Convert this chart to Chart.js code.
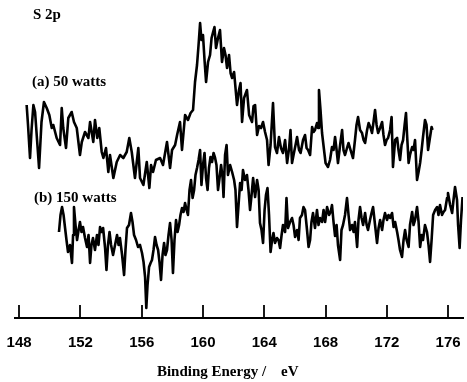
<!DOCTYPE html>
<html>
<head>
<meta charset="utf-8">
<title>S 2p</title>
<script src="https://cdn.jsdelivr.net/npm/chart.js@4/dist/chart.umd.min.js"></script>
<style>
  body { margin: 0; background: #fff; }
  canvas { display: block; }
</style>
</head>
<body>
<canvas id="grafico" width="467" height="382"></canvas>
<script>
// S 2p spectra, binding energy (eV) and intensity (a.u.)
var energyA = [148.49,148.58,148.71,148.81,148.93,149.04,149.17,149.30,149.46,149.62,149.80,149.97,150.13,150.23,150.45,150.67,150.78,150.88,151.06,151.21,
  151.43,151.58,151.76,151.97,152.09,152.30,152.52,152.63,152.84,152.95,153.10,153.23,153.39,153.50,153.67,153.82,153.93,154.15,154.37,154.59,
  154.80,155.02,155.19,155.35,155.56,155.78,155.89,156.11,156.33,156.50,156.61,156.74,156.93,157.20,157.39,157.65,157.85,157.98,158.18,158.31,
  158.50,158.63,158.83,159.02,159.19,159.35,159.48,159.61,159.71,159.81,159.90,160.00,160.10,160.20,160.33,160.46,160.56,160.66,160.75,160.85,
  160.98,161.11,161.24,161.37,161.47,161.57,161.70,161.80,161.90,162.03,162.22,162.35,162.45,162.55,162.68,162.87,163.01,163.20,163.30,163.40,
  163.53,163.66,163.79,163.92,164.05,164.18,164.28,164.41,164.57,164.70,164.83,164.96,165.09,165.22,165.36,165.49,165.62,165.71,165.81,165.91,
  166.04,166.14,166.27,166.37,166.53,166.66,166.76,166.86,166.99,167.12,167.22,167.31,167.44,167.51,167.57,167.67,167.77,167.90,168.00,168.16,
  168.29,168.42,168.52,168.62,168.72,168.81,168.95,169.08,169.17,169.27,169.40,169.50,169.63,169.79,169.92,170.02,170.12,170.25,170.38,170.48,
  170.58,170.71,170.81,170.94,171.03,171.13,171.23,171.33,171.43,171.56,171.69,171.78,171.88,171.98,172.08,172.21,172.31,172.40,172.54,172.67,
  172.76,172.86,172.96,173.06,173.16,173.25,173.32,173.42,173.51,173.65,173.74,173.84,173.97,174.07,174.17,174.27,174.36,174.49,174.59,174.69,
  174.79,174.92,174.98];
var intensityA = [213,193,160,188,213,206,178,150,196,216,210,203,190,193,180,173,210,190,170,200,
  206,196,190,163,176,186,180,196,176,198,180,190,166,160,170,146,163,140,156,163,
  160,166,180,166,140,170,140,133,156,130,153,146,158,160,153,176,150,168,173,183,
  196,168,203,198,205,208,236,253,273,295,278,283,258,236,256,263,280,286,291,270,
  280,288,256,270,263,250,263,245,240,246,213,228,235,196,220,228,203,196,212,213,
  183,192,190,196,186,178,153,173,215,171,165,181,170,165,178,155,170,188,155,163,
  173,181,168,165,178,183,170,168,163,191,186,188,195,190,228,208,185,168,155,151,
  158,171,168,181,168,155,173,188,168,163,170,175,168,160,178,193,201,188,185,178,
  175,188,195,190,185,196,208,193,185,190,196,183,173,178,180,188,201,151,178,180,
  168,158,173,178,193,205,183,155,163,171,168,178,138,146,155,168,181,198,193,168,
  178,191,188];

var energyB = [150.60,150.70,150.80,150.90,150.99,151.09,151.19,151.32,151.45,151.52,151.58,151.68,151.78,151.88,151.97,152.07,152.17,152.30,152.43,152.53,
  152.63,152.72,152.82,152.95,153.08,153.18,153.28,153.38,153.48,153.61,153.70,153.80,153.90,154.00,154.13,154.26,154.39,154.49,154.58,154.72,
  154.85,154.94,155.04,155.17,155.30,155.40,155.50,155.63,155.76,155.89,156.02,156.12,156.22,156.30,156.38,156.48,156.58,156.67,156.77,156.87,
  156.97,157.07,157.16,157.26,157.36,157.46,157.55,157.65,157.75,157.85,157.95,158.04,158.14,158.24,158.34,158.44,158.53,158.63,158.73,158.83,
  158.93,159.02,159.12,159.22,159.32,159.42,159.51,159.61,159.71,159.81,159.90,160.00,160.10,160.20,160.30,160.39,160.49,160.59,160.69,160.79,
  160.88,160.98,161.08,161.18,161.28,161.34,161.44,161.54,161.63,161.77,161.90,162.03,162.12,162.22,162.32,162.42,162.52,162.61,162.74,162.87,
  162.97,163.07,163.17,163.27,163.40,163.53,163.63,163.72,163.82,163.92,164.02,164.11,164.21,164.31,164.41,164.51,164.60,164.70,164.83,164.93,
  165.03,165.13,165.22,165.36,165.45,165.55,165.68,165.81,165.91,166.01,166.14,166.24,166.33,166.46,166.56,166.66,166.79,166.89,166.99,167.08,
  167.18,167.31,167.44,167.54,167.64,167.77,167.87,167.97,168.10,168.23,168.33,168.42,168.52,168.62,168.72,168.81,168.95,169.04,169.14,169.27,
  169.40,169.50,169.60,169.73,169.83,169.92,170.06,170.15,170.25,170.35,170.45,170.58,170.68,170.77,170.90,171.00,171.10,171.23,171.36,171.46,
  171.56,171.69,171.78,171.88,172.01,172.11,172.21,172.34,172.44,172.54,172.67,172.76,172.86,172.99,173.09,173.19,173.29,173.42,173.51,173.65,
  173.74,173.84,173.97,174.07,174.17,174.27,174.36,174.49,174.62,174.72,174.82,174.92,175.02,175.15,175.28,175.37,175.47,175.60,175.70,175.80,
  175.93,175.99,176.13,176.26,176.35,176.45,176.58,176.65,176.75,176.84,176.94];
var intensityB = [86,103,111,103,91,78,66,73,55,83,111,93,78,88,96,86,91,80,71,83,
  55,73,80,68,83,73,91,86,90,70,48,73,86,73,63,73,83,73,80,63,
  43,68,90,93,105,96,83,78,71,73,65,56,41,10,33,51,55,58,68,81,
  73,68,56,38,63,75,63,68,83,95,78,45,78,98,86,93,103,110,106,115,
  108,103,128,138,120,128,143,150,158,168,133,153,165,140,128,150,161,156,165,160,
  153,128,140,153,140,121,163,173,143,153,146,138,128,91,113,135,128,148,138,143,
  128,108,123,140,121,138,128,95,88,75,108,123,130,103,66,78,85,75,80,78,
  70,83,93,86,120,90,96,100,93,81,88,78,100,103,111,108,88,71,78,96,
  105,90,108,93,100,96,108,96,111,103,106,113,96,82,93,73,58,88,93,103,
  120,103,88,93,86,96,71,98,111,100,93,105,93,88,98,105,111,93,75,90,
  98,88,98,105,98,103,100,105,91,96,86,78,68,61,78,88,78,71,93,106,
  93,98,111,96,71,83,78,93,86,73,56,78,103,108,111,103,113,103,106,108,
  120,125,113,105,118,131,118,93,70,98,121];

var xTicks = [148, 152, 156, 160, 164, 168, 172, 176];
var labelA = "(a) 50 watts";
var labelB = "(b) 150 watts";
var panelTitle = "S 2p";

function pontos(xs, ys) {
  var lista = [];
  for (var i = 0; i < xs.length; i++) {
    lista.push({ x: xs[i], y: ys[i] });
  }
  return lista;
}

// short upward tick marks on the axis, plus the text labels
var marcas = {
  id: "marcas",
  afterDraw: function (chart) {
    var ctx = chart.ctx;
    var sx = chart.scales.x;
    var base = chart.chartArea.bottom;
    ctx.save();
    ctx.strokeStyle = "#000";
    ctx.lineWidth = 1.8;
    sx.ticks.forEach(function (t) {
      var px = Math.round(sx.getPixelForValue(t.value));
      ctx.beginPath();
      ctx.moveTo(px, base);
      ctx.lineTo(px, base - 13);
      ctx.stroke();
    });
    ctx.fillStyle = "#000";
    ctx.font = 'bold 15px "Liberation Serif", "Times New Roman", serif';
    ctx.textBaseline = "middle";
    ctx.textAlign = "left";
    ctx.fillText(panelTitle, 33, 15);
    ctx.fillText(labelA, 32, 82);
    ctx.fillText(labelB, 34, 198);
    ctx.restore();
  }
};

var ctx = document.getElementById("grafico");

var grafico = new Chart(ctx, {
  type: "line",
  data: {
    datasets: [{
      label: labelA,
      data: pontos(energyA, intensityA),
      borderColor: "#000",
      borderWidth: 2.6,
      borderJoinStyle: "round",
      pointRadius: 0,
      tension: 0
    }, {
      label: labelB,
      data: pontos(energyB, intensityB),
      borderColor: "#000",
      borderWidth: 2.6,
      borderJoinStyle: "round",
      pointRadius: 0,
      tension: 0
    }]
  },
  options: {
    responsive: false,
    animation: false,
    devicePixelRatio: 1,
    layout: { padding: { left: 15, right: 4, top: 0, bottom: 0 } },
    plugins: {
      legend: { display: false },
      tooltip: { enabled: false }
    },
    scales: {
      x: {
        type: "linear",
        min: 147.73,
        max: 176.97,
        afterBuildTicks: function (axis) {
          axis.ticks = xTicks.map(function (v) { return { value: v }; });
        },
        afterFit: function (axis) {
          axis.height = 64;
        },
        grid: { display: true, drawOnChartArea: false, drawTicks: true, tickLength: 13, color: "rgba(0,0,0,0)" },
        border: { display: true, color: "#000", width: 2 },
        ticks: {
          color: "#000",
          padding: 3,
          maxRotation: 0,
          font: { family: '"Liberation Sans", Arial, sans-serif', size: 15, weight: "bold" }
        },
        title: {
          display: true,
          text: "Binding Energy /    eV      ",
          color: "#000",
          padding: { top: 0, bottom: 1 },
          font: { family: '"Liberation Serif", "Times New Roman", serif', size: 15, weight: "bold" }
        }
      },
      y: {
        display: false,
        min: 0,
        max: 318
      }
    }
  },
  plugins: [marcas]
});
</script>
</body>
</html>
